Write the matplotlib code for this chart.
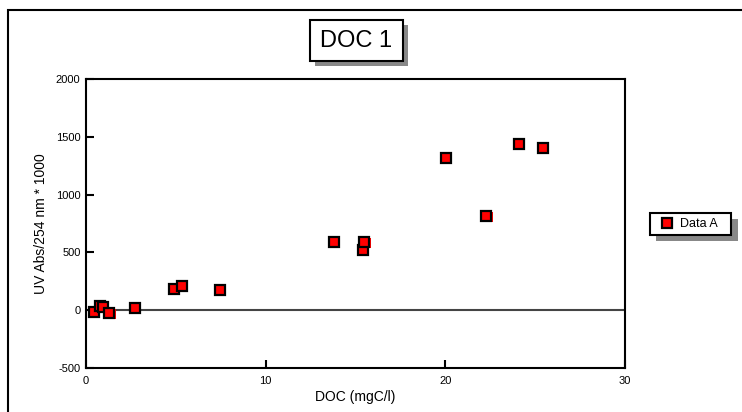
import matplotlib.pyplot as plt
import matplotlib.transforms as mtransforms
from matplotlib.patches import Rectangle

# DOC vs UV absorbance
doc = [0.45, 0.8, 0.95, 1.3, 2.7, 4.9, 5.35, 7.45, 13.8, 15.4, 15.5, 20.05, 22.3, 24.1, 25.45]
uv = [-17, 40, 25, -26, 17, 187, 207, 173, 588, 518, 588, 1316, 812, 1437, 1403]

x_ticks = [0, 10, 20, 30]
y_ticks = [-500, 0, 500, 1000, 1500, 2000]

plt.rcParams['font.family'] = ['Liberation Sans', 'DejaVu Sans']
plt.rcParams['axes.unicode_minus'] = False

W, H = 742, 412
fig = plt.figure(figsize=(W / 100, H / 100), dpi=100)


def px_box(x0, y0, x1, y1, **kw):
    """rectangle given in pixel coords from top-left"""
    r = Rectangle((x0 / W, 1 - y1 / H), (x1 - x0) / W, (y1 - y0) / H,
                  transform=fig.transFigure, **kw)
    fig.patches.append(r)
    return r


# outer frame of the page (runs off right and bottom edges)
px_box(8, 10, 760, 430, fill=False, edgecolor='black', linewidth=1.5)

ax = fig.add_axes([0.116, 0.107, 0.726, 0.701])

# zero line
ax.axhline(0, color='#444444', linewidth=1.5, zorder=1)

# red shadow, shifted a little down-right
shadow = mtransforms.offset_copy(ax.transData, fig=fig, x=0.8, y=-0.8, units='points')
ax.plot(doc, uv, 's', color='red', markersize=7, markeredgewidth=0,
        transform=shadow, zorder=2)
ax.plot(doc, uv, 's', markerfacecolor='red', markeredgecolor='black',
        markersize=6.5, markeredgewidth=1.6, zorder=3, label='Data A')

ax.set_xlim(0, 30)
ax.set_ylim(-500, 2000)
ax.set_xticks(x_ticks)
ax.set_yticks(y_ticks)
ax.tick_params(direction='in', length=6, width=1.5, labelsize=8, pad=4)
ax.tick_params(axis='x', top=False, pad=6)
for s in ax.spines.values():
    s.set_linewidth(1.5)

ax.set_xlabel('DOC (mgC/l)', fontsize=10, labelpad=3)
ax.set_ylabel('UV Abs/254 nm * 1000', fontsize=10, labelpad=6)

# title box with gray shadow
px_box(315, 25, 408, 66, facecolor='#888888', edgecolor='none')
px_box(310, 20, 403, 61, facecolor='white', edgecolor='black', linewidth=1.5)
fig.text(356.5 / W, 1 - 41 / H, 'DOC 1', fontsize=17, ha='center', va='center')

# legend with gray shadow
px_box(656, 219, 738, 241, facecolor='#888888', edgecolor='none')
px_box(650, 213, 731, 235, facecolor='white', edgecolor='black', linewidth=1.5)
fig.legend(loc='center', bbox_to_anchor=(690 / W, 1 - 224 / H),
           fontsize=9, frameon=False, handlelength=0.8,
           handletextpad=0.6, borderpad=0.3)

plt.savefig('out.png', dpi=100)
